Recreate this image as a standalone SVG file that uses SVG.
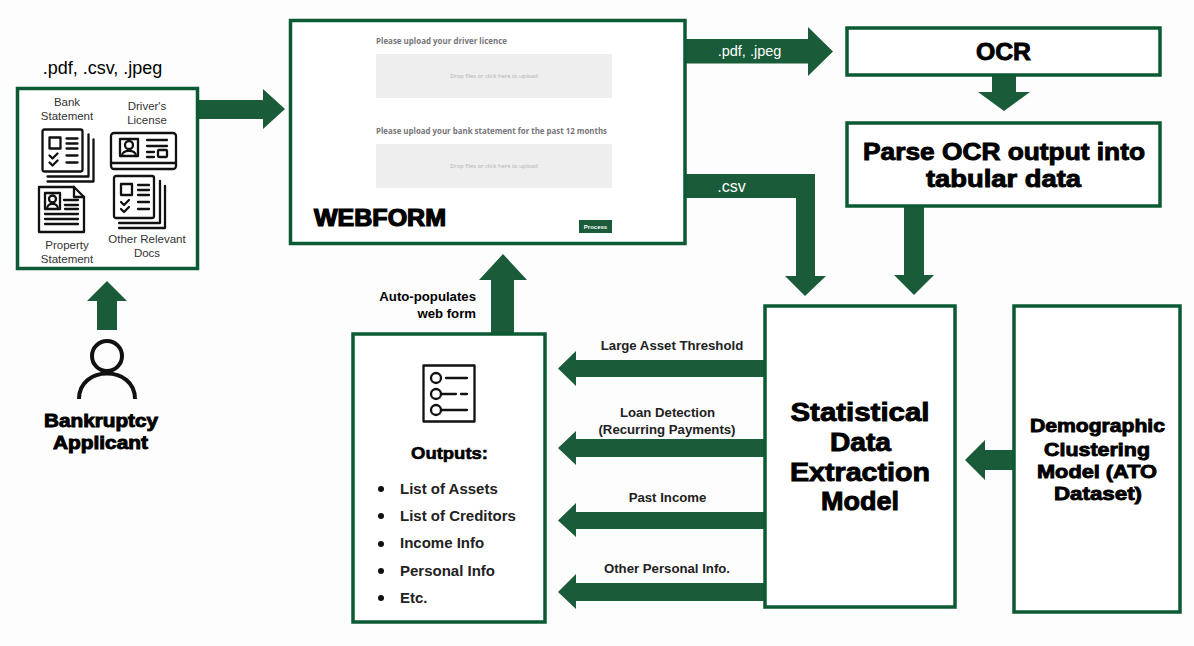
<svg xmlns="http://www.w3.org/2000/svg" width="1194" height="646" viewBox="0 0 1194 646">
<style>
.box{fill:#fff;stroke:#0b5a33;stroke-width:3.5}
.arr{fill:#1a5c3a}
text{font-family:"Liberation Sans",Arial,sans-serif;fill:#000}
.m{text-anchor:middle}
.b{font-weight:700}
.h{font-weight:700;stroke:#000;stroke-width:.9;text-anchor:middle}
.lab{font-weight:700;font-size:13.2px;text-anchor:middle;fill:#222}
.doc{font-size:11.5px;text-anchor:middle;fill:#333}
.out{font-weight:700;font-size:15px;fill:#222}
.ic{fill:none;stroke:#111;stroke-width:2.300;stroke-linecap:round;stroke-linejoin:round}
.form{font-family:"Open Sans","Liberation Sans",sans-serif;font-weight:700;font-size:8px;fill:#77757a}
.drop{font-family:"Open Sans","Liberation Sans",sans-serif;font-size:5.800px;fill:#b0b0b2;text-anchor:middle}
</style>
<defs>
<g id="stack" class="ic">
<rect x="0" y="0" width="40" height="42" rx="2"/>
<path d="M46 5V47H5M51 10V52H5"/>
<rect x="7" y="8" width="11" height="11"/>
<path d="M24 9H35M24 14H35M24 19H35M24 26H35M24 33H35M7 26l3 3 5-5M7 33l3 3 5-5"/>
</g>
</defs>
<rect width="1194" height="646" fill="#fdfdfd"/>
<g id="connectors">
<path class="arr" d="M197 100H263V89L285 109L263 129V119H197Z"/>
<path class="arr" d="M97 330V301H87L107 281L127 301H117V330Z"/>
<path class="arr" d="M686 39H808V27L833 51.500L808 76V63.500H686Z"/>
<path class="arr" d="M992 76H1016V92H1030L1004 111L978 92H992Z"/>
<path class="arr" d="M904 207H924V275H934L914 295L894 275H904Z"/>
<path class="arr" d="M686 174H815V276H826L805 296L785 276H796V198H686Z"/>
<path class="arr" d="M491 333V280H479L503 254L527 280H514V333Z"/>
<path class="arr" d="M764 360V377H576V386L558 368.500L576 351V360Z"/>
<path class="arr" d="M764 439V457H576V465L558 448L576 431V439Z"/>
<path class="arr" d="M764 512V529H576V537L558 520.500L576 503V512Z"/>
<path class="arr" d="M764 583V601H576V609L558 592L576 574V583Z"/>
<path class="arr" d="M1014 450V470H985V480L965 460L985 440V450Z"/>
</g>
<g id="input-docs">
<rect class="box" x="17.500" y="88.500" width="180" height="180"/>
<text x="102.500" y="74" class="m" font-size="18" fill="#222">.pdf, .csv, .jpeg</text>
<text x="67" y="106" class="doc">Bank</text>
<text x="67" y="120" class="doc">Statement</text>
<text x="147" y="110" class="doc">Driver's</text>
<text x="147" y="124" class="doc">License</text>
<text x="67" y="249" class="doc">Property</text>
<text x="67" y="263" class="doc">Statement</text>
<text x="147" y="243" class="doc">Other Relevant</text>
<text x="147" y="257" class="doc">Docs</text>
<use href="#stack" x="42.500" y="129.500"/>
<use href="#stack" x="114" y="176"/>
<g class="ic">
<rect x="111" y="133" width="65" height="36" rx="3"/>
<path d="M111 163H176"/>
<rect x="120" y="139" width="18" height="17"/>
<circle cx="129" cy="145" r="4"/>
<path d="M122 156c0-7 14-7 14 0M147 140H167M147 146H167M147 152H154M147 157H154"/>
<rect x="158" y="150" width="9" height="7" rx="1"/>
</g>
<g class="ic">
<path d="M39 187H74L84 197V232H39Z"/>
<path d="M74 187V197H84"/>
<rect x="45" y="193" width="15" height="16"/>
<circle cx="52.500" cy="199" r="3.500"/>
<path d="M47 209c0-7 11-7 11 0M64 200H78M65 205H78M65 209H78M45 214H78M45 219H78M45 224H78"/>
</g>
</g>
<g id="applicant">
<g fill="none" stroke="#111" stroke-width="4">
<circle cx="107" cy="356" r="15"/>
<path d="M79 399c0-34 56-34 56 0"/>
</g>
<text x="101" y="427" class="h" font-size="17.500" textLength="114" lengthAdjust="spacingAndGlyphs">Bankruptcy</text>
<text x="100.500" y="449" class="h" font-size="17.500" textLength="95" lengthAdjust="spacingAndGlyphs">Applicant</text>
</g>
<g id="webform">
<rect class="box" x="290.500" y="20.500" width="394.500" height="223"/>
<text x="376" y="44" class="form" textLength="131" lengthAdjust="spacingAndGlyphs">Please upload your driver licence</text>
<rect x="376" y="54" width="236" height="44" fill="#eeeeee"/>
<text x="494" y="78" class="drop">Drop files or click here to upload</text>
<text x="376" y="134" class="form" textLength="231" lengthAdjust="spacingAndGlyphs">Please upload your bank statement for the past 12 months</text>
<rect x="376" y="144" width="236" height="44" fill="#eeeeee"/>
<text x="494" y="168" class="drop">Drop files or click here to upload</text>
<rect x="579" y="220" width="33" height="13" fill="#1a5c3a"/>
<text x="595.500" y="228.500" class="m b" font-size="6" style="fill:#fff">Process</text>
<text x="380" y="226" class="h" font-size="23" textLength="132" lengthAdjust="spacingAndGlyphs" style="stroke-width:1.200">WEBFORM</text>
</g>
<g id="ocr">
<rect class="box" x="847" y="28" width="313" height="47"/>
<text x="1003.500" y="60" class="h" font-size="24" textLength="55" lengthAdjust="spacingAndGlyphs">OCR</text>
</g>
<g id="parse">
<rect class="box" x="847" y="123" width="313" height="83"/>
<text x="1004" y="160" class="h" font-size="23" textLength="282" lengthAdjust="spacingAndGlyphs">Parse OCR output into</text>
<text x="1003.500" y="187" class="h" font-size="23" textLength="155" lengthAdjust="spacingAndGlyphs">tabular data</text>
</g>
<g id="model">
<rect class="box" x="765" y="306" width="190" height="301"/>
<text x="860" y="421" class="h" font-size="25" textLength="139" lengthAdjust="spacingAndGlyphs">Statistical</text>
<text x="860.500" y="451" class="h" font-size="25" textLength="61" lengthAdjust="spacingAndGlyphs">Data</text>
<text x="860" y="481" class="h" font-size="25" textLength="140" lengthAdjust="spacingAndGlyphs">Extraction</text>
<text x="860" y="510" class="h" font-size="25" textLength="78" lengthAdjust="spacingAndGlyphs">Model</text>
</g>
<g id="demographic">
<rect class="box" x="1014" y="306" width="166" height="306"/>
<text x="1097.500" y="432" class="h" font-size="19" textLength="135" lengthAdjust="spacingAndGlyphs">Demographic</text>
<text x="1097" y="456" class="h" font-size="19" textLength="106" lengthAdjust="spacingAndGlyphs">Clustering</text>
<text x="1097" y="478" class="h" font-size="19" textLength="120" lengthAdjust="spacingAndGlyphs">Model (ATO</text>
<text x="1098" y="500" class="h" font-size="19" textLength="88" lengthAdjust="spacingAndGlyphs">Dataset)</text>
</g>
<g id="outputs">
<rect class="box" x="353" y="334" width="192" height="288"/>
<g class="ic">
<rect x="423.500" y="365.500" width="51" height="56" style="stroke-linecap:butt"/>
<circle cx="436" cy="378" r="5"/><circle cx="436" cy="394" r="5"/><circle cx="436" cy="410" r="5"/>
<path d="M446 378H467M441 394H456M461 394H467M441 410H467"/>
</g>
<text x="449.500" y="459" class="h" font-size="17" textLength="77" lengthAdjust="spacingAndGlyphs" style="stroke-width:.6">Outputs:</text>
<g fill="#111"><circle cx="381" cy="489" r="3"/><circle cx="381" cy="516" r="3"/><circle cx="381" cy="544" r="3"/><circle cx="381" cy="571" r="3"/><circle cx="381" cy="598" r="3"/></g>
<text x="400" y="493.500" class="out">List of Assets</text>
<text x="400" y="520.500" class="out">List of Creditors</text>
<text x="400" y="548" class="out">Income Info</text>
<text x="400" y="575.500" class="out">Personal Info</text>
<text x="400" y="603" class="out">Etc.</text>
</g>
<g id="labels">
<text x="749.500" y="56" class="m" font-size="14.500" style="fill:#fff">.pdf, .jpeg</text>
<text x="731.500" y="192" class="m" font-size="16" style="fill:#fff">.csv</text>
<text x="476" y="301" text-anchor="end" class="b" font-size="13.200" fill="#222">Auto-populates</text>
<text x="476" y="318" text-anchor="end" class="b" font-size="13.200" fill="#222">web form</text>
<text x="672" y="350" class="lab">Large Asset Threshold</text>
<text x="667.500" y="417" class="lab">Loan Detection</text>
<text x="667" y="434" class="lab">(Recurring Payments)</text>
<text x="667.500" y="502" class="lab">Past Income</text>
<text x="667" y="573" class="lab">Other Personal Info.</text>
</g>
</svg>
